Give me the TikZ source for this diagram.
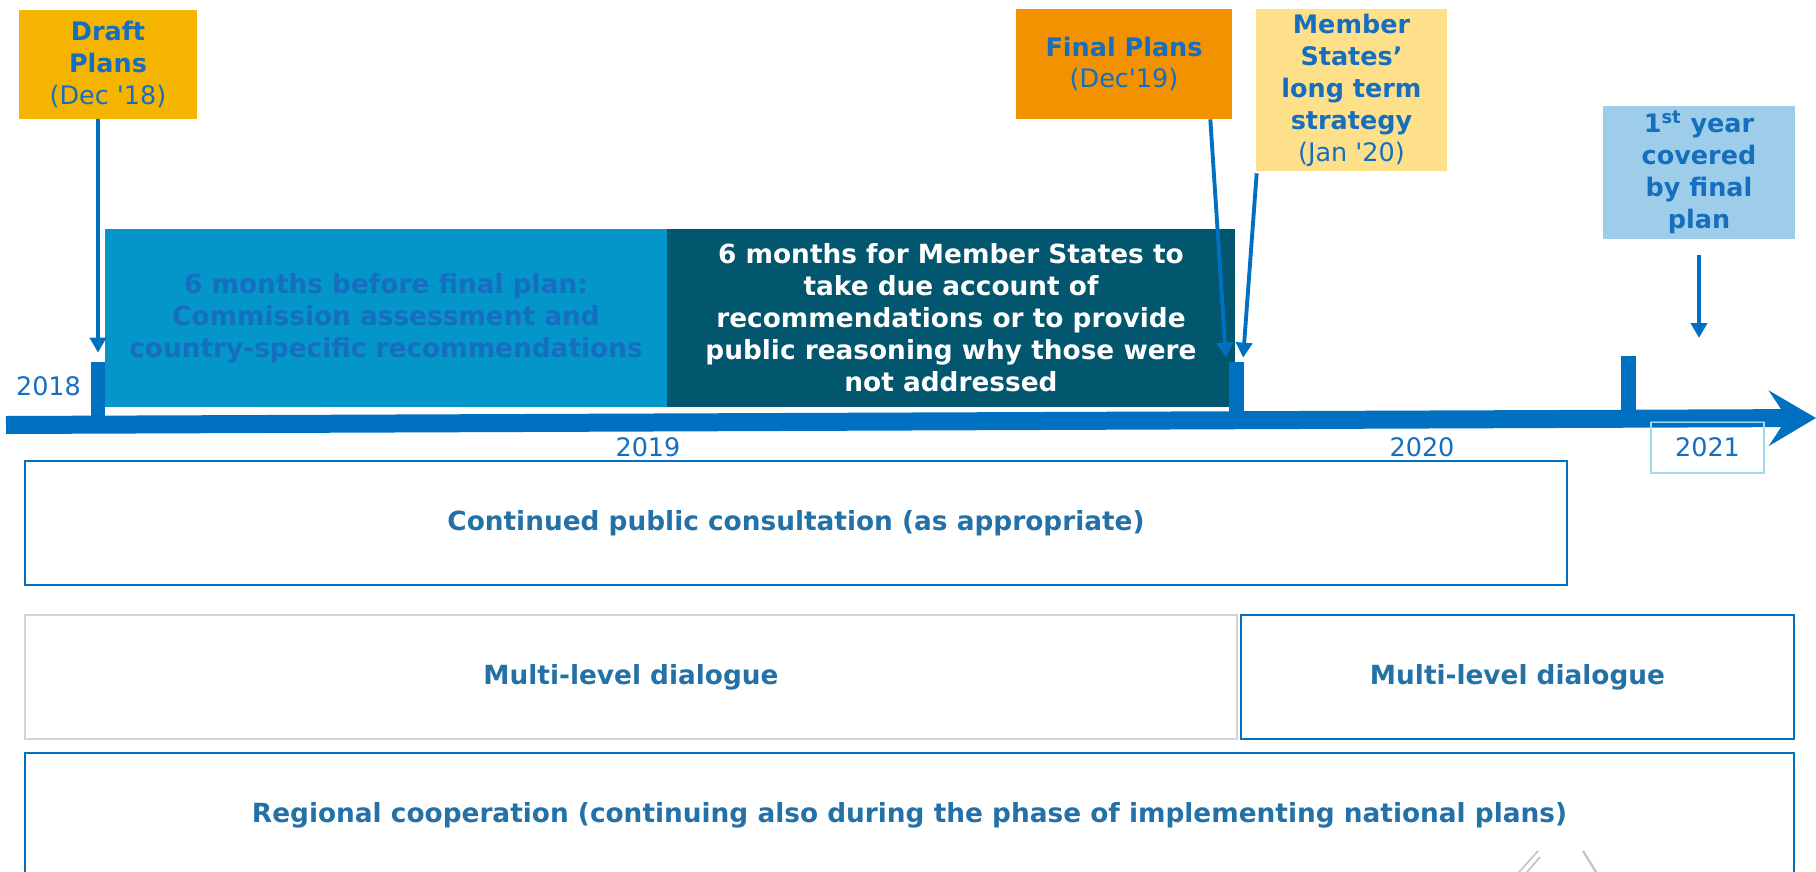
\documentclass[tikz,border=0pt]{standalone}
\usepackage{fontspec}
\setmainfont{DejaVu Sans}
\usetikzlibrary{arrows.meta,calc}

\definecolor{axisblue}{RGB}{0,112,192}
\definecolor{markblue}{RGB}{22,110,190}
\definecolor{labelblue}{RGB}{36,113,168}
\definecolor{draftfill}{RGB}{244,180,0}
\definecolor{finalfill}{RGB}{243,146,0}
\definecolor{strategyfill}{RGB}{255,224,138}
\definecolor{yearfill}{RGB}{158,205,234}
\definecolor{beforefill}{RGB}{5,150,201}
\definecolor{afterfill}{RGB}{2,86,110}

\tikzset{
  milestone/.style={rectangle, inner sep=0pt, align=center, text=markblue,
    font=\fontsize{14.5}{18.2}\selectfont\bfseries},
  phase/.style={rectangle, inner sep=0pt, align=center, minimum height=3.56cm,
    font=\fontsize{15}{18.2}\selectfont\bfseries},
  track/.style={rectangle, inner sep=0pt, minimum height=2.48cm, draw=axisblue,
    line width=1.1pt, text=labelblue, font=\fontsize{15}{18}\selectfont\bfseries},
  yeartick/.style={rectangle, inner sep=0pt, fill=axisblue, minimum width=0.29cm},
  yearlabel/.style={text=markblue, inner sep=0pt, font=\fontsize{14.5}{17}\selectfont},
  pointer/.style={draw=axisblue, line width=2.2pt, -{Triangle[length=0.3cm,width=0.32cm]}},
}

\begin{document}
\begin{tikzpicture}[x=0.02cm, y=-0.02cm]
\useasboundingbox (0,0) rectangle (1816,872);

% the two phases
\node[phase, fill=beforefill, text=markblue, minimum width=11.24cm] (before) at (386,318)
  {6 months before final plan:\\Commission assessment and\\country-specific recommendations};
\node[phase, fill=afterfill, text=white, minimum width=11.36cm] (after) at (951,318)
  {6 months for Member States to\\take due account of\\recommendations or to provide\\public reasoning why those were\\not addressed};

% ticks and time axis
\node[yeartick, minimum height=1.26cm, minimum width=0.28cm] (tickA) at (98,393.5) {};
\node[yeartick, minimum height=1.2cm] (tickB) at (1236.5,392) {};
\node[yeartick, minimum height=1.3cm] (tickC) at (1628.5,388.5) {};
\coordinate (axisstart) at (6,425);
\coordinate (axisend) at (1816,418);
\draw[axisblue, line width=0.36cm, -{Stealth[length=0.94cm,width=1.1cm,inset=0.36cm]}]
  (axisstart) -- (axisend);

% milestones
\node[milestone, fill=draftfill, minimum width=3.56cm, minimum height=2.18cm] (draft) at (108,64.5)
  {Draft\\Plans\\{\mdseries (Dec \textquotesingle 18)}};
\node[milestone, fill=finalfill, minimum width=4.32cm, minimum height=2.2cm] (final) at (1124,64)
  {Final Plans\\{\mdseries (Dec\textquotesingle 19)}};
\node[milestone, fill=strategyfill, minimum width=3.82cm, minimum height=3.24cm] (strategy) at (1351.5,90)
  {Member\\States’\\long term\\strategy\\{\mdseries (Jan \textquotesingle 20)}};
\node[milestone, fill=yearfill, minimum width=3.84cm, minimum height=2.66cm] (firstyear) at (1699,172.5)
  {1\textsuperscript{st} year\\covered\\by final\\plan};

\draw[pointer] (draft.south -| tickA) -- ($(tickA.north)+(0,-9)$);
\draw[pointer] ($(final.south east)+(-22,0)$) -- ($(tickB.north west)+(-3,-4)$);
\draw[pointer] ($(strategy.south west)+(1,2)$) -- ($(tickB.north east)+(-1,-4)$);
\coordinate (yearmark) at (1699,338);
\draw[pointer] ($(firstyear.south)+(0,16)$) -- (yearmark);

% years
\node[yearlabel] (y2018) at (48.5,386.5) {2018};
\node[yearlabel] (y2019) at (648,447.5) {2019};
\node[yearlabel] (y2020) at (1422,447.5) {2020};
\node[yearlabel, draw={rgb,255:red,160;green,220;blue,240}, line width=0.8pt,
  minimum width=2.26cm, minimum height=1.02cm] (y2021) at (1707.5,447.5) {2021};
\draw[black!45, line width=0.8pt] (y2021.north west) -- (y2021.north east);

% tracks
\node[track, minimum width=30.84cm] (consult) at (796,523)
  {Continued public consultation (as appropriate)};
\node[track, draw=black!17, minimum width=24.24cm] (dialogueA) at (631,677) {Multi-level dialogue};
\node[track, minimum width=11.06cm] (dialogueB) at (1517.5,677) {Multi-level dialogue};
\node[track, minimum width=35.38cm] (regional) at (909.5,815)
  {Regional cooperation (continuing also during the phase of implementing national plans)};

\draw[black!22, line width=1pt] (1519,872) -- (1538,851);
\draw[black!22, line width=1pt] (1527,872) -- (1540,857);
\draw[black!22, line width=1.4pt] (1583,851) -- (1596,872);
\end{tikzpicture}
\end{document}
